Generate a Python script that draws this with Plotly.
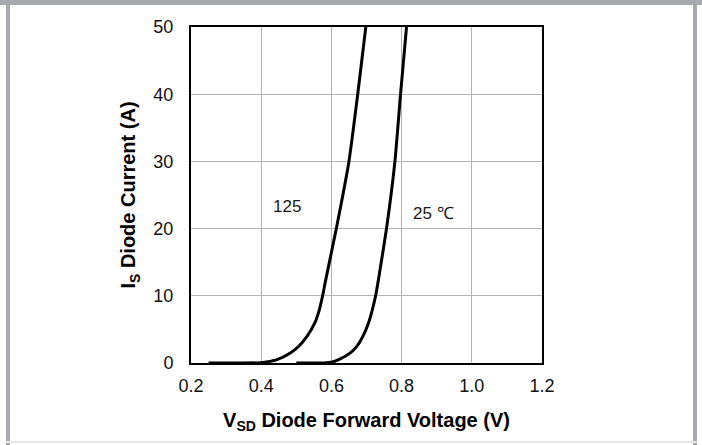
import plotly.graph_objects as go

# Data
vsd_125 = [0.25, 0.35, 0.40, 0.42, 0.445, 0.483, 0.507, 0.531, 0.553, 0.565, 0.575, 0.584, 0.614, 0.650, 0.675, 0.698]
is_125 = [0.0, 0.0, 0.05, 0.2, 0.5, 1.5, 2.5, 4.0, 6.0, 7.8, 10.0, 12.4, 20.0, 30.0, 40.0, 50.0]

vsd_25 = [0.50, 0.58, 0.60, 0.621, 0.654, 0.673, 0.690, 0.706, 0.716, 0.726, 0.734, 0.757, 0.781, 0.797, 0.814]
is_25 = [0.0, 0.0, 0.1, 0.5, 1.5, 2.5, 4.0, 6.0, 7.8, 10.0, 12.4, 20.0, 30.0, 40.0, 50.0]

x_ticks = [0.2, 0.4, 0.6, 0.8, 1.0, 1.2]
x_tick_text = ["0.2", "0.4", "0.6", "0.8", "1.0", "1.2"]
y_ticks = [0, 10, 20, 30, 40, 50]

labels = ["125", "25 ℃"]
label_x = [0.474, 0.89]
label_y = [23.3, 22.3]

FONT = "Liberation Sans, Arial, sans-serif"

fig = go.Figure()
for xs, ys in [(vsd_125, is_125), (vsd_25, is_25)]:
    fig.add_trace(go.Scatter(x=xs, y=ys, mode="lines",
                             line=dict(color="black", width=3, shape="spline", smoothing=0.5),
                             showlegend=False, hoverinfo="skip"))

for t, lx, ly in zip(labels, label_x, label_y):
    fig.add_annotation(x=lx, y=ly, text=t, showarrow=False,
                       font=dict(family=FONT, size=17, color="#1a1a1a"))

axis_common = dict(showline=True, linecolor="black", linewidth=2, mirror=True,
                   showgrid=True, gridcolor="#b4b4b4", gridwidth=1, zeroline=False,
                   ticks="", tickfont=dict(family=FONT, size=18, color="#111111"))

fig.update_xaxes(range=[0.2, 1.2], tickvals=x_ticks, ticktext=x_tick_text,
                 ticklabelstandoff=5,
                 title=dict(text="<b>V<sub>SD</sub> Diode Forward Voltage (V)</b>",
                            font=dict(family=FONT, size=20, color="black"), standoff=18),
                 **axis_common)
fig.update_yaxes(range=[0, 50], tickvals=y_ticks,
                 ticklabelstandoff=12,
                 title=dict(text="<b>I<sub>S</sub> Diode Current (A)</b>",
                            font=dict(family=FONT, size=20, color="black"), standoff=12),
                 **axis_common)

# outer gray frame
frame = [
    (0, 0, 702, 5, "#a8a9ad"),
    (6, 0, 10, 445, "#a8a9ad"),
    (693, 0, 697, 445, "#a8a9ad"),
    (6, 441, 697, 443, "#e6e6e6"),
]
L, T, W, H = 191, 27, 351, 336
for x0, y0, x1, y1, c in frame:
    fig.add_shape(type="rect", xref="paper", yref="paper",
                  x0=(x0 - L) / W, x1=(x1 - L) / W,
                  y0=1 - (y0 - T) / H, y1=1 - (y1 - T) / H,
                  fillcolor=c, line=dict(width=0), layer="below")

fig.update_layout(width=702, height=445,
                  margin=dict(l=191, r=160, t=27, b=82),
                  paper_bgcolor="white", plot_bgcolor="white")

fig.write_html("out.html", config={"displayModeBar": False},
               post_script="document.body.style.margin='0px';document.body.style.overflow='hidden';")
